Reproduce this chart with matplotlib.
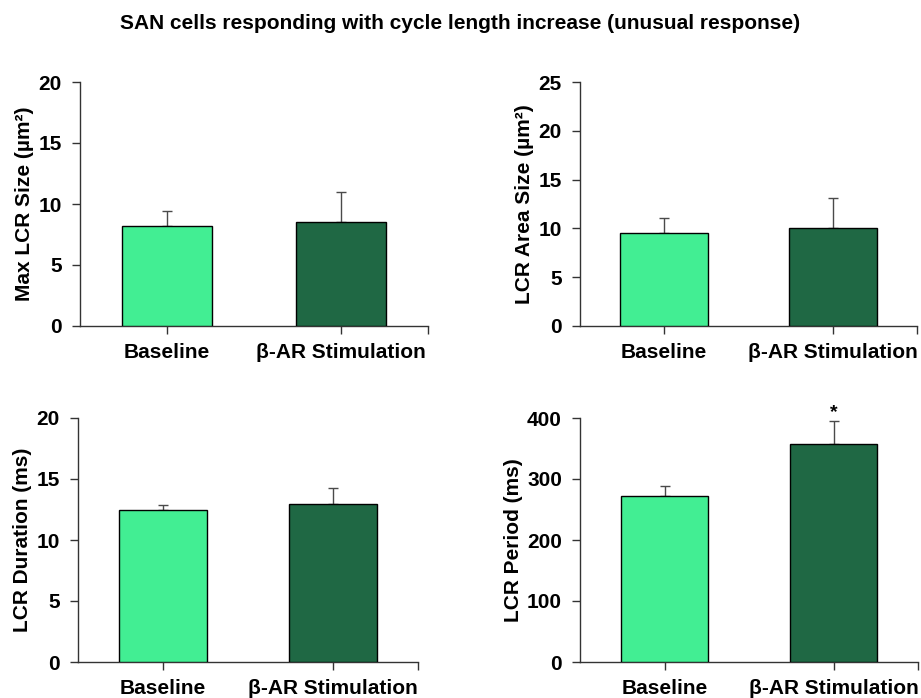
import matplotlib
matplotlib.use('Agg')
import matplotlib.pyplot as plt

plt.rcParams['font.family'] = ['Liberation Sans', 'DejaVu Sans']
plt.rcParams['font.weight'] = 'bold'

# data
groups = ['Baseline', 'β-AR Stimulation']
bar_colors = ['#42EE93', '#1F6844']

max_size = [8.2, 8.55]
max_size_err = [1.23, 2.4]

area_size = [9.5, 10.0]
area_size_err = [1.55, 3.15]

duration = [12.43, 12.98]
duration_err = [0.44, 1.28]

period = [272, 358]
period_err = [17, 37]

title = 'SAN cells responding with cycle length increase (unusual response)'

fig = plt.figure(figsize=(9.21, 6.98), dpi=100)
fig.text(0.5, 0.966, title, ha='center', va='center', fontsize=15, fontweight='bold')

# axes boxes in pixels: x0, x1, ytop, ybottom
boxes = [
    (80, 428, 82, 326),
    (580, 917, 82, 326),
    (78, 418, 418, 662),
    (580, 918, 418, 662),
]
W, H = 921, 698

panels = [
    (max_size, max_size_err, 'Max LCR Size (µm²)', 20, 5),
    (area_size, area_size_err, 'LCR Area Size (µm²)', 25, 5),
    (duration, duration_err, 'LCR Duration (ms)', 20, 5),
    (period, period_err, 'LCR Period (ms)', 400, 100),
]

xpos = [0.5, 1.5]
axes = []
for (vals, errs, ylab, ymax, step), (x0, x1, yt, yb) in zip(panels, boxes):
    ax = fig.add_axes([x0 / W, 1 - yb / H, (x1 - x0) / W, (yb - yt) / H])
    axes.append(ax)
    ax.bar(xpos, vals, width=0.52, color=bar_colors, edgecolor='black', linewidth=1, zorder=3)
    ax.errorbar(xpos, vals, yerr=[[0, 0], errs], fmt='none', ecolor='#4a4a4a',
                elinewidth=1, capsize=3.5, capthick=1, zorder=2)
    ax.set_xlim(0, 2)
    ax.set_ylim(0, ymax)
    ax.set_yticks(range(0, ymax + 1, step))
    ax.set_xticks(xpos + [2])
    ax.set_xticklabels(groups + [''])
    for s in ['top', 'right']:
        ax.spines[s].set_visible(False)
    for s in ['left', 'bottom']:
        ax.spines[s].set_color('#333333')
        ax.spines[s].set_linewidth(1)
    ax.tick_params(axis='both', direction='out', length=6, width=1, color='#333333',
                   labelsize=15)
    ax.tick_params(axis='x', pad=6)
    ax.tick_params(axis='y', pad=7)
    ax.set_ylabel(ylab, fontsize=15, fontweight='bold', labelpad=3)
    for lbl in ax.get_xticklabels() + ax.get_yticklabels():
        lbl.set_fontweight('bold')

# significance mark on beta-AR period bar
axes[3].annotate('*', xy=(xpos[1], period[1] + period_err[1]), xytext=(0, 0),
                 textcoords='offset points', ha='center', va='bottom', fontsize=14,
                 fontweight='bold')

fig.savefig('out.png', dpi=100)
